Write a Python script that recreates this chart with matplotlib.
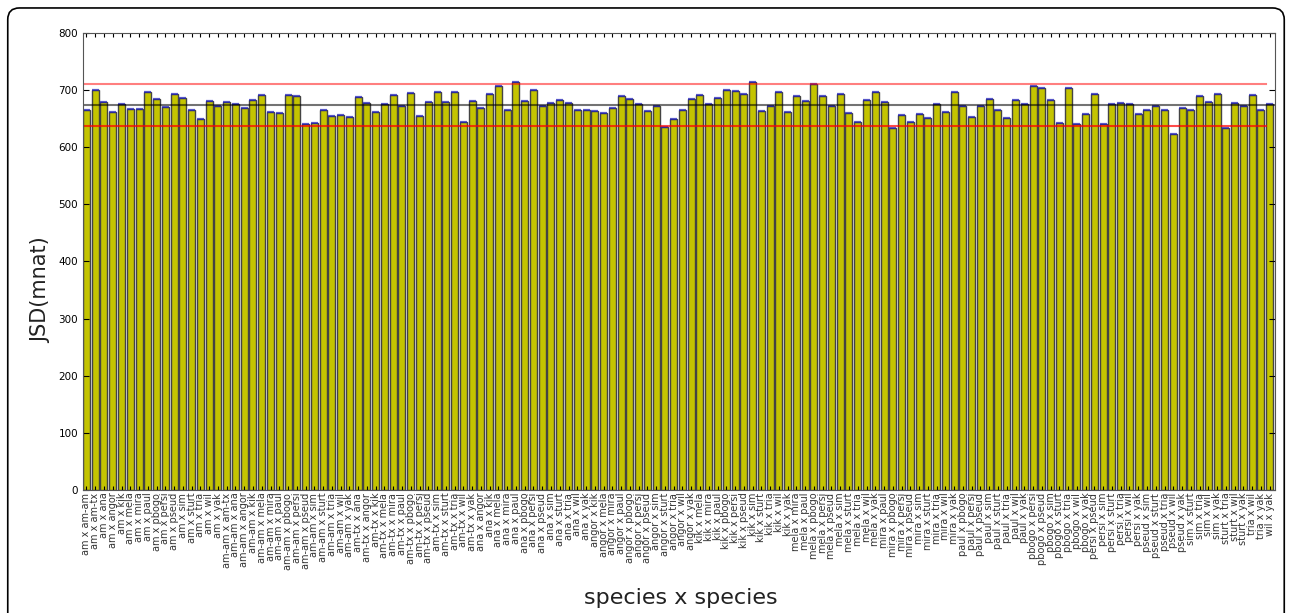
import numpy as np
import matplotlib
matplotlib.use("Agg")
import matplotlib.pyplot as plt
from matplotlib.patches import FancyBboxPatch

# espécies comparadas (todas as combinações i<j)
species = ['am', 'am-am', 'am-tx', 'ana', 'angor', 'kik', 'mela', 'mira', 'paul',
           'pbogo', 'persi', 'pseud', 'sim', 'sturt', 'tria', 'wil', 'yak']

pairs = []
for i in range(len(species)):
    for j in range(i + 1, len(species)):
        pairs.append(species[i] + ' x ' + species[j])

# JSD (mnat)
jsd = [666, 701, 679, 662, 676, 667, 667, 697, 685, 671, 694, 686, 666, 650, 681, 673,
       679, 676, 668, 682, 692, 662, 660, 692, 690, 640, 643, 665, 654, 657, 653, 688,
       677, 662, 675, 691, 673, 695, 655, 679, 697, 679, 697, 644, 681, 668, 694, 707,
       665, 714, 681, 700, 672, 678, 682, 677, 665, 665, 663, 660, 668, 690, 685, 675,
       664, 672, 636, 649, 665, 685, 691, 675, 686, 701, 699, 694, 714, 664, 673, 697,
       662, 690, 681, 711, 689, 673, 693, 660, 645, 683, 696, 679, 634, 656, 644, 659,
       651, 676, 662, 697, 672, 653, 672, 684, 666, 651, 682, 675, 707, 704, 682, 643,
       704, 641, 659, 693, 640, 676, 678, 675, 659, 666, 672, 666, 623, 668, 666, 689,
       680, 694, 633, 678, 672, 692, 666, 676]

mean_jsd = 674
std_jsd = 37

x = np.arange(len(pairs))

fig = plt.figure(figsize=(12.92, 6.13), dpi=100)
ax = fig.add_axes([0.0642, 0.2007, 0.9226, 0.7455])

ax.bar(x, jsd, width=0.8, align='edge', color='#c4c400', edgecolor='#444444', linewidth=1)
ax.hlines(jsd, x, x + 0.8, colors='#2020c0', linewidth=1.6, alpha=0.7)

ax.axhline(mean_jsd, color='k', linewidth=1.5, alpha=0.55)
ax.plot([0, 135], [mean_jsd + std_jsd] * 2, color='r', linewidth=1.5, alpha=0.5)
ax.plot([0, 135], [mean_jsd - std_jsd] * 2, color='r', linewidth=1.5, alpha=0.7)

ax.set_xlim(0, len(pairs))
ax.set_ylim(0, 800)
ax.set_xticks(x + 0.4)
ax.set_xticklabels(pairs, rotation=90, fontsize=7, color='#333333')
ax.set_yticks(range(0, 801, 100))
ax.tick_params(axis='y', labelsize=7.5, direction='in', right=True, length=4)
ax.tick_params(axis='x', direction='in', top=True, length=3, pad=2)
for s in ax.spines.values():
    s.set_color('#555555')

fig.text(0.032, 0.527, 'JSD(mnat)', rotation=90, fontsize=15, ha='center', va='center',
         color='#222222')
fig.text(0.527, 0.025, 'species x species', fontsize=16, ha='center', va='center',
         color='#222222')

# moldura arredondada da figura
frame = FancyBboxPatch((0.006, -0.05), 0.988, 1.037, boxstyle='round,pad=0,rounding_size=0.009',
                       transform=fig.transFigure, fill=False, edgecolor='k', linewidth=1.2,
                       mutation_aspect=2.1)
fig.patches.append(frame)

plt.savefig('out.png', dpi=100)
plt.close()
